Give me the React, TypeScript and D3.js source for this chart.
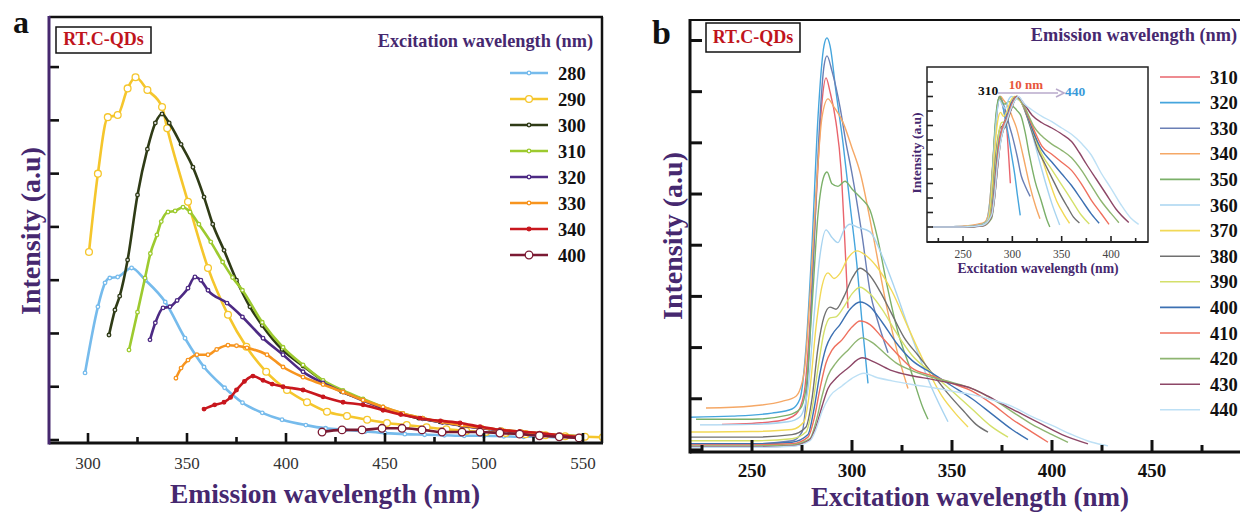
import React from 'react';
import * as d3 from 'd3';

const FONT = '"Liberation Serif","Times New Roman",Times,serif';
const PURPLE = '#46286f';

// ---------------- Panel a: emission spectra (x = emission nm, y = intensity a.u.) ----------------
const excitationLabels = ['280', '290', '300', '310', '320', '330', '340', '400'];
const excitationColors = ['#76bbec', '#f5c62c', '#2f3b16', '#9dca2f', '#4d2a84', '#f7941e', '#c8171e', '#7b1a33'];

const a280 = [[298.5,1.26],[305,2.5],[308.6,2.95],[311,3.04],[315,3.06],[322,3.23],[329,3.0],[339,2.59],[349,1.91],[358.6,1.37],[369,0.98],[378,0.7],[388,0.51],[398,0.38],[410,0.28],[420,0.22],[430,0.19],[440,0.16],[450,0.13],[460,0.11],[470,0.1],[480,0.09],[490,0.08],[500,0.08],[510,0.07],[520,0.06],[530,0.06],[540,0.05],[550,0.05]];
const a290 = [[300.5,3.53],[305,5.0],[310,6.06],[315,6.1],[320,6.6],[324,6.81],[330,6.57],[337.4,6.25],[340,5.85],[350.5,4.47],[360.6,3.23],[370.7,2.35],[380,1.75],[390,1.28],[400.5,0.94],[410.6,0.71],[420.7,0.53],[430.8,0.45],[441,0.38],[451,0.32],[461,0.28],[471,0.24],[481,0.2],[491,0.17],[501,0.15],[511,0.13],[521,0.11],[531,0.09],[541,0.07],[551,0.06],[560,0.05]];
const a300 = [[310.6,1.97],[313.6,2.44],[316,2.7],[320,3.38],[325,4.6],[330,5.46],[334,5.95],[337.4,6.12],[341,5.95],[347,5.55],[353,5.12],[358.6,4.56],[363,4.05],[368.7,3.56],[375,3.0],[381.8,2.5],[388,2.15],[398,1.7],[408.6,1.39],[418.7,1.11],[428,0.91],[438.9,0.76],[448,0.61],[457.6,0.5],[467,0.41],[477.8,0.34],[488,0.28],[498,0.23],[508,0.19],[518,0.15],[528,0.12],[538,0.09],[548,0.07]];
const a310 = [[320.7,1.69],[325,2.4],[328.8,3.04],[331.5,3.5],[334.8,3.85],[337,4.1],[340.4,4.28],[344,4.3],[348,4.37],[351.5,4.28],[356,4.05],[362,3.72],[368,3.34],[373,3.05],[378,2.81],[388,2.21],[398.5,1.74],[408.6,1.41],[418.7,1.12],[428.8,0.93],[438.9,0.77],[449,0.62],[459,0.5],[469,0.41],[479,0.34],[489,0.28],[499,0.23],[509,0.19],[519,0.15],[529,0.12],[539,0.09],[549,0.07]];
const a320 = [[331.3,1.88],[334,2.2],[337.9,2.48],[341.4,2.5],[345,2.62],[350.5,2.85],[354,3.06],[357,3.0],[360.6,2.81],[370.2,2.57],[378,2.31],[388.4,1.91],[398.5,1.6],[408.6,1.28],[418.7,1.07],[428.8,0.9],[438.9,0.74],[449,0.6],[459,0.49],[469,0.4],[479,0.33],[489,0.27],[499,0.22],[509,0.18],[519,0.14],[529,0.11],[539,0.08],[549,0.06]];
const a330 = [[344.4,1.16],[347,1.35],[350.5,1.5],[355,1.6],[360.6,1.6],[365,1.7],[370.7,1.78],[375,1.77],[380.3,1.73],[390.4,1.6],[398.5,1.37],[408.6,1.18],[418.7,1.04],[428.8,0.9],[438.9,0.75],[449,0.62],[459,0.5],[469,0.41],[479,0.34],[489,0.28],[499,0.23],[509,0.19],[519,0.15],[529,0.12],[539,0.09],[549,0.07]];
const a340 = [[358.6,0.58],[364,0.66],[368.7,0.71],[372,0.8],[375,0.94],[379,1.1],[383.3,1.2],[388.4,1.12],[393,1.05],[398.5,1.0],[408.6,0.94],[418.7,0.81],[428.8,0.71],[438.9,0.66],[449,0.56],[458,0.48],[467.7,0.41],[478,0.36],[487.9,0.32],[498,0.25],[508,0.19],[518,0.16],[528,0.13],[538,0.09],[548.5,0.06]];
const a400 = [[418.2,0.15],[428.3,0.19],[438.4,0.19],[448.5,0.22],[458.6,0.22],[468.7,0.19],[478.8,0.15],[488.9,0.15],[498,0.15],[508,0.13],[518,0.11],[528,0.08],[538,0.06],[548,0.04]];
const aSeries = [a280, a290, a300, a310, a320, a330, a340, a400];
const aMarkerR = [1.8, 3.4, 1.8, 1.8, 1.8, 1.8, 1.8, 3.8];
const aMarkerFill = ['#fff', '#fff', '#ddd', '#fff', '#fff', '#fff', '#c8171e', '#fff'];

const aXMajor = [300, 350, 400, 450, 500, 550];
const aXMinor = [325, 375, 425, 475, 525];
const aYTicks = [0, 1, 2, 3, 4, 5, 6, 7];

// ---------------- Panel b: excitation spectra (x = excitation nm) ----------------
const emissionLabels = ['310', '320', '330', '340', '350', '360', '370', '380', '390', '400', '410', '420', '430', '440'];
const emissionColors = ['#e9646c', '#45a5dd', '#6a7fb5', '#f5a866', '#7bb069', '#a8d4f0', '#f2d957', '#707070', '#d4e06a', '#3c70b2', '#ef705e', '#8eb571', '#8d4767', '#bde0f5'];

const b310 = [[235,0.5],[250,0.52],[265,0.58],[272,0.7],[276,1.1],[279,2.5],[282,4.8],[285,6.8],[287,7.27],[289,7.0],[292,6.4],[294.5,5.5],[296.5,4.0],[298,2.77]];
const b320 = [[219,0.64],[240,0.66],[260,0.72],[270,0.8],[274,1.0],[277,2.0],[280,4.0],[283,6.5],[286,7.9],[287.5,8.05],[289,7.9],[292,7.0],[295.5,6.0],[299,4.8],[302.5,3.6],[305,2.5],[308,1.3]];
const b330 = [[219,0.12],[250,0.12],[270,0.18],[275,0.35],[278,1.5],[281,4.0],[284,6.5],[286,7.5],[287.5,7.7],[290,7.4],[294,6.7],[297,6.0],[300,5.4],[305,4.2],[309,3.1],[313,2.5],[318,1.9]];
const b340 = [[227,0.82],[250,0.86],[265,0.95],[272,1.05],[276,1.5],[279,3.0],[282,5.0],[285,6.5],[288,6.86],[291,6.7],[295.5,6.4],[300,5.9],[304,5.43],[310.5,4.2],[317.5,2.77],[324,1.72],[328,1.2]];
const b350 = [[222,0.6],[250,0.6],[268,0.68],[274,0.8],[277,1.2],[280,2.8],[283,4.6],[286,5.35],[287.5,5.43],[290,5.2],[293,5.15],[296.5,5.25],[300,5.1],[305,4.9],[309,4.69],[313,4.1],[317.5,3.22],[323,2.3],[329,1.6],[335.5,0.82],[338,0.6]];
const b360 = [[224,0.49],[250,0.5],[268,0.55],[274,0.65],[278,1.2],[281,2.6],[284,3.8],[287,4.3],[290,4.15],[293,4.05],[296,4.3],[299,4.41],[303,4.35],[309,4.26],[315,3.8],[320,3.3],[330,2.2],[340,1.2],[348,0.55]];
const b370 = [[219,0.35],[250,0.36],[270,0.4],[276,0.55],[279,1.2],[282,2.4],[285,3.2],[288,3.46],[291,3.35],[294,3.45],[298,3.75],[302.5,3.89],[307,3.8],[312,3.6],[320,3.1],[328,2.4],[335,1.8],[345,1.05],[352,0.7],[358,0.45]];
const b380 = [[219,0.25],[250,0.25],[270,0.3],[277,0.45],[280,1.0],[283,2.0],[286,2.6],[289,2.79],[292,2.75],[296,3.0],[300,3.35],[304,3.55],[308,3.45],[314,3.1],[320,2.65],[326,2.2],[333,1.85],[340,1.5],[348,1.1],[356,0.75],[362,0.5],[368,0.35]];
const b390 = [[219,0.18],[250,0.18],[270,0.22],[277,0.35],[280,0.8],[283,1.6],[286,2.3],[289,2.58],[292,2.6],[296,2.8],[300,3.05],[304,3.18],[309,3.05],[315,2.75],[322,2.3],[330,1.85],[340,1.5],[350,1.15],[360,0.8],[370,0.45],[378,0.25]];
const b400 = [[219,0.12],[250,0.12],[270,0.15],[278,0.3],[281,0.8],[284,1.5],[287,2.0],[290,2.25],[294,2.45],[299,2.75],[304,2.89],[309,2.8],[315,2.5],[322,2.1],[330,1.75],[340,1.5],[350,1.25],[360,1.0],[370,0.7],[380,0.4],[388,0.2]];
const b410 = [[219,0.1],[250,0.1],[270,0.12],[278,0.25],[281,0.6],[284,1.2],[287,1.7],[290,1.95],[295,2.15],[300,2.4],[304,2.52],[309,2.45],[315,2.2],[322,1.9],[330,1.6],[340,1.45],[350,1.3],[360,1.15],[370,0.9],[380,0.6],[390,0.35],[398,0.15]];
const b420 = [[219,0.08],[250,0.08],[270,0.1],[279,0.22],[282,0.55],[285,1.05],[288,1.45],[292,1.7],[298,1.95],[305,2.19],[310,2.1],[316,1.9],[322,1.7],[330,1.55],[340,1.42],[350,1.32],[360,1.2],[370,1.0],[380,0.75],[390,0.5],[400,0.3],[408,0.15]];
const b430 = [[219,0.06],[250,0.06],[270,0.08],[279,0.2],[282,0.45],[285,0.85],[288,1.2],[292,1.4],[298,1.6],[305,1.8],[312,1.7],[320,1.55],[330,1.45],[340,1.38],[350,1.3],[360,1.2],[368,1.05],[375,0.9],[385,0.7],[395,0.5],[405,0.3],[418,0.12]];
const b440 = [[219,0.05],[250,0.05],[270,0.07],[279,0.18],[282,0.4],[285,0.75],[289,1.05],[295,1.25],[300,1.4],[306,1.5],[312,1.42],[320,1.35],[330,1.28],[340,1.22],[350,1.15],[360,1.08],[370,0.98],[380,0.85],[390,0.65],[400,0.48],[410,0.3],[420,0.15],[428,0.08]];
const bSeries = [b310, b320, b330, b340, b350, b360, b370, b380, b390, b400, b410, b420, b430, b440];

const bXMajor = [250, 300, 350, 400, 450];
const bXMinor = [225, 275, 325, 375, 425, 475];
const bYTicks = [0, 1, 2, 3, 4, 5, 6, 7, 8];

const insetXMajor = [250, 300, 350, 400];
const insetXMinor = [225, 275, 325, 375, 425];
const insetYTicks = [0, 1, 2, 3, 4, 5, 6, 7, 8, 9, 10].map((k) => k / 9);

export default function App() {
  // panel a scales
  const xA = d3.scaleLinear().domain([280.3, 559.6]).range([49, 602]);
  const yA = d3.scaleLinear().domain([-0.056, 7.94]).range([443, 17]);
  const lineA = d3.line<number[]>().x((d) => xA(d[0])).y((d) => yA(d[1])).curve(d3.curveMonotoneX);

  // panel b scales
  const xB = d3.scaleLinear().domain([219, 500]).range([690, 1252]);
  const yB = d3.scaleLinear().domain([-0.04, 8.4]).range([452, 20]);
  const lineB = d3.line<number[]>().x((d) => xB(d[0])).y((d) => yB(d[1])).curve(d3.curveMonotoneX);

  // inset scales
  const xI = d3.scaleLinear().domain([213.5, 437.5]).range([927, 1148]);
  const yI = d3.scaleLinear().domain([0, 1]).range([227, 96.5]);
  const lineI = d3.line<number[]>().x((d) => xI(d[0])).y((d) => yI(d[1])).curve(d3.curveMonotoneX);
  const normalized = bSeries.map((s) => {
    const ext = d3.extent(s, (d) => d[1]) as [number, number];
    return s.map((d) => [d[0], (d[1] - ext[0]) / (ext[1] - ext[0])]);
  });

  const aL = xA.range()[0], aR = xA.range()[1], aT = yA.range()[1], aB = yA.range()[0];
  const bL = xB.range()[0], bT = yB.range()[1], bB = yB.range()[0];
  const iL = 927, iR = 1148, iT = 67, iB = 242;

  return (
    <svg width={1240} height={514} style={{ position: 'absolute', left: 0, top: 0, background: '#fff' }} fontFamily={FONT}>
      <defs>
        <clipPath id="clipA"><rect x={aL} y={aT} width={aR - aL} height={aB - aT} /></clipPath>
        <clipPath id="clipB"><rect x={bL} y={bT} width={1240 - bL} height={bB - bT} /></clipPath>
        <clipPath id="clipI"><rect x={iL} y={iT} width={iR - iL} height={iB - iT} /></clipPath>
      </defs>
      <rect x={0} y={0} width={1240} height={514} fill="#fff" />

      {/* ================= Panel a ================= */}
      <text x={13} y={33} fontSize={32} fontWeight="bold" fill="#111">a</text>
      <g clipPath="url(#clipA)">
        {aSeries.map((s, i) => (
          <g key={i}>
            <path d={lineA(s) || ''} fill="none" stroke={excitationColors[i]} strokeWidth={2.6} strokeLinejoin="round" />
            {s.map((d, j) => (
              <circle key={j} cx={xA(d[0])} cy={yA(d[1])} r={aMarkerR[i]} fill={aMarkerFill[i]} stroke={excitationColors[i]} strokeWidth={1.3} />
            ))}
          </g>
        ))}
      </g>
      {/* ticks */}
      {aYTicks.map((t) => (
        <line key={t} x1={aL} x2={aL + 10} y1={yA(t)} y2={yA(t)} stroke="#111" strokeWidth={2.6} />
      ))}
      {aXMajor.map((t) => (
        <g key={t}>
          <line x1={xA(t)} x2={xA(t)} y1={aB} y2={aB - 10} stroke="#111" strokeWidth={2.6} />
          <text x={xA(t)} y={469} fontSize={17} fill="#333" textAnchor="middle">{t}</text>
        </g>
      ))}
      {aXMinor.map((t) => (
        <line key={t} x1={xA(t)} x2={xA(t)} y1={aB} y2={aB - 6} stroke="#111" strokeWidth={2.6} />
      ))}
      {/* frame */}
      <line x1={aL} x2={aR + 1} y1={aT} y2={aT} stroke="#111" strokeWidth={2.5} />
      <line x1={aR} x2={aR} y1={aT} y2={aB} stroke="#111" strokeWidth={2.5} />
      <line x1={aL} x2={aR + 1} y1={aB} y2={aB} stroke="#111" strokeWidth={3} />
      <line x1={aL} x2={aL} y1={aT - 1} y2={aB + 1.5} stroke={PURPLE} strokeWidth={3} />
      {/* sample box */}
      <rect x={56} y={27} width={95} height={26} fill="#fff" stroke="#111" strokeWidth={1.5} />
      <text x={103.5} y={45} fontSize={18} fontWeight="bold" fill="#c0141c" textAnchor="middle">RT.C-QDs</text>
      {/* legend */}
      <text x={593} y={47} fontSize={18.3} fontWeight="bold" fill={PURPLE} textAnchor="end">Excitation wavelength (nm)</text>
      {excitationLabels.map((lab, i) => {
        const y = 73 + i * 26;
        return (
          <g key={lab}>
            <line x1={510} x2={548} y1={y} y2={y} stroke={excitationColors[i]} strokeWidth={2.6} />
            <circle cx={529} cy={y} r={aMarkerR[i]} fill={aMarkerFill[i]} stroke={excitationColors[i]} strokeWidth={1.3} />
            <text x={558} y={y + 6.5} fontSize={18.5} fontWeight="bold" fill="#111">{lab}</text>
          </g>
        );
      })}
      {/* axis titles */}
      <text transform="translate(40,231) rotate(-90)" fontSize={28} fontWeight="bold" fill={PURPLE} textAnchor="middle">Intensity (a.u)</text>
      <text x={325} y={503} fontSize={27.5} fontWeight="bold" fill={PURPLE} textAnchor="middle">Emission wavelength (nm)</text>

      {/* ================= Panel b ================= */}
      <text x={652} y={44} fontSize={34} fontWeight="bold" fill="#111">b</text>
      <g clipPath="url(#clipB)">
        {bSeries.map((s, i) => (
          <path key={i} d={lineB(s) || ''} fill="none" stroke={emissionColors[i]} strokeWidth={1.4} strokeLinejoin="round" />
        ))}
      </g>
      {bYTicks.map((t) => (
        <line key={t} x1={bL} x2={bL + 12} y1={yB(t)} y2={yB(t)} stroke="#111" strokeWidth={3} />
      ))}
      {bXMajor.map((t) => (
        <g key={t}>
          <line x1={xB(t)} x2={xB(t)} y1={bB} y2={bB - 12} stroke="#111" strokeWidth={3} />
          <text x={xB(t)} y={477} fontSize={19} fontWeight="bold" fill="#111" textAnchor="middle">{t}</text>
        </g>
      ))}
      {bXMinor.map((t) => (
        <line key={t} x1={xB(t)} x2={xB(t)} y1={bB} y2={bB - 7} stroke="#111" strokeWidth={3} />
      ))}
      <line x1={bL} x2={1240} y1={bT} y2={bT} stroke="#111" strokeWidth={2.2} />
      <line x1={bL} x2={1240} y1={bB} y2={bB} stroke="#111" strokeWidth={3} />
      <line x1={bL} x2={bL} y1={bT - 1} y2={bB + 1.5} stroke="#111" strokeWidth={3} />
      <rect x={706} y={23} width={94} height={29} fill="#fff" stroke="#111" strokeWidth={1.5} />
      <text x={753} y={43} fontSize={18} fontWeight="bold" fill="#c0141c" textAnchor="middle">RT.C-QDs</text>

      {/* legend b */}
      <text x={1237} y={41} fontSize={18.3} fontWeight="bold" fill={PURPLE} textAnchor="end">Emission wavelength (nm)</text>
      {emissionLabels.map((lab, i) => {
        const y = 77 + i * 25.6;
        return (
          <g key={lab}>
            <line x1={1160} x2={1200} y1={y} y2={y} stroke={emissionColors[i]} strokeWidth={1.6} />
            <text x={1210} y={y + 6.5} fontSize={18.5} fontWeight="bold" fill="#111">{lab}</text>
          </g>
        );
      })}

      <text transform="translate(682,236) rotate(-90)" fontSize={28} fontWeight="bold" fill={PURPLE} textAnchor="middle">Intensity (a.u)</text>
      <text x={970} y={506} fontSize={27} fontWeight="bold" fill={PURPLE} textAnchor="middle">Excitation wavelength (nm)</text>

      {/* ================= Inset ================= */}
      <rect x={iL} y={iT} width={iR - iL} height={iB - iT} fill="#fff" stroke="#222" strokeWidth={1.5} />
      <g clipPath="url(#clipI)">
        {normalized.map((s, i) => (
          <path key={i} d={lineI(s) || ''} fill="none" stroke={emissionColors[i]} strokeWidth={1.4} strokeLinejoin="round" />
        ))}
      </g>
      {insetYTicks.map((t, k) => (
        <line key={k} x1={iL} x2={iL + 6} y1={yI(t)} y2={yI(t)} stroke="#222" strokeWidth={1.6} />
      ))}
      {insetXMajor.map((t) => (
        <g key={t}>
          <line x1={xI(t)} x2={xI(t)} y1={iB} y2={iB - 6} stroke="#222" strokeWidth={1.6} />
          <text x={xI(t)} y={258} fontSize={11.5} fill="#444" textAnchor="middle">{t}</text>
        </g>
      ))}
      {insetXMinor.map((t) => (
        <line key={t} x1={xI(t)} x2={xI(t)} y1={iB} y2={iB - 4} stroke="#222" strokeWidth={1.6} />
      ))}
      <line x1={iL} x2={iR} y1={iB} y2={iB} stroke="#222" strokeWidth={2} />
      <text transform="translate(921,153) rotate(-90)" fontSize={13.5} fontWeight="bold" fill={PURPLE} textAnchor="middle">Intensity (a.u)</text>
      <text x={1038} y={273} fontSize={13.7} fontWeight="bold" fill={PURPLE} textAnchor="middle">Excitation wavelength (nm)</text>
      <text x={978} y={95} fontSize={13.5} fontWeight="bold" fill="#111">310</text>
      <line x1={998} x2={1058} y1={93} y2={93} stroke="#b9aacb" strokeWidth={1.6} />
      <path d="M1056,89 L1064,93 L1056,97" fill="none" stroke="#b9aacb" strokeWidth={1.6} />
      <text x={1026} y={89} fontSize={13} fontWeight="bold" fill="#e8553a" textAnchor="middle">10 nm</text>
      <text x={1065} y={96} fontSize={13.5} fontWeight="bold" fill="#3a9ad9">440</text>
    </svg>
  );
}
